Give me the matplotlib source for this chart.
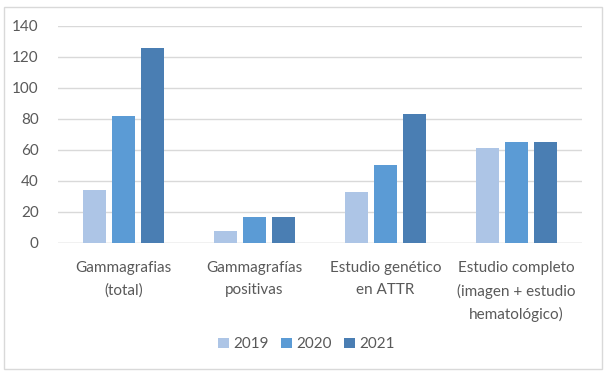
import numpy as np
import matplotlib
matplotlib.use('Agg')
import matplotlib.pyplot as plt
from matplotlib.patches import Rectangle

# data
categories = ["Gammagrafias\n(total)", "Gammagrafías\npositivas",
              "Estudio genético\nen ATTR", "Estudio completo\n(imagen + estudio\nhematológico)"]
years = ["2019", "2020", "2021"]
vals_2019 = [34, 8, 33, 61]
vals_2020 = [82, 17, 50, 65]
vals_2021 = [126, 17, 83, 65]

colors = ["#ADC5E6", "#5B9BD5", "#4A7EB3"]
text_col = "#595959"

plt.rcParams['font.family'] = ['Lato', 'DejaVu Sans']

fig = plt.figure(figsize=(6.07, 3.75), dpi=100)
ax = fig.add_axes([0.0956, 0.352, 0.863, 0.579])

# outer chart border
fig.patches.append(Rectangle((0.007, 0.016), 0.985, 0.965, transform=fig.transFigure,
                             fill=False, edgecolor="#D9D9D9", linewidth=1))

x = np.arange(len(categories))
width = 0.176
step = 0.222
for i, (vals, yr) in enumerate(zip([vals_2019, vals_2020, vals_2021], years)):
    ax.bar(x + (i - 1) * step, vals, width, color=colors[i], label=yr, zorder=3)

ax.set_xlim(-0.5, len(categories) - 0.5)
ax.set_ylim(0, 140)
ax.set_yticks(range(0, 141, 20))
ax.grid(axis='y', color="#D9D9D9", linewidth=1, zorder=0)
for s in ax.spines.values():
    s.set_visible(False)
ax.axhline(0, color="#D9D9D9", linewidth=1, zorder=2)

ax.set_xticks(x)
ax.set_xticklabels(categories, fontsize=11, color=text_col, linespacing=1.7, va='top')
ax.tick_params(axis='x', length=0, pad=13)
ax.tick_params(axis='y', length=0, labelsize=11, labelcolor=text_col, pad=14)

leg = fig.legend(loc='center', bbox_to_anchor=(0.505, 0.082), ncol=3, frameon=False,
                 fontsize=11, handlelength=0.7, handleheight=0.7, handletextpad=0.3,
                 columnspacing=0.8, labelcolor=text_col)

fig.savefig("out.png", dpi=100)
